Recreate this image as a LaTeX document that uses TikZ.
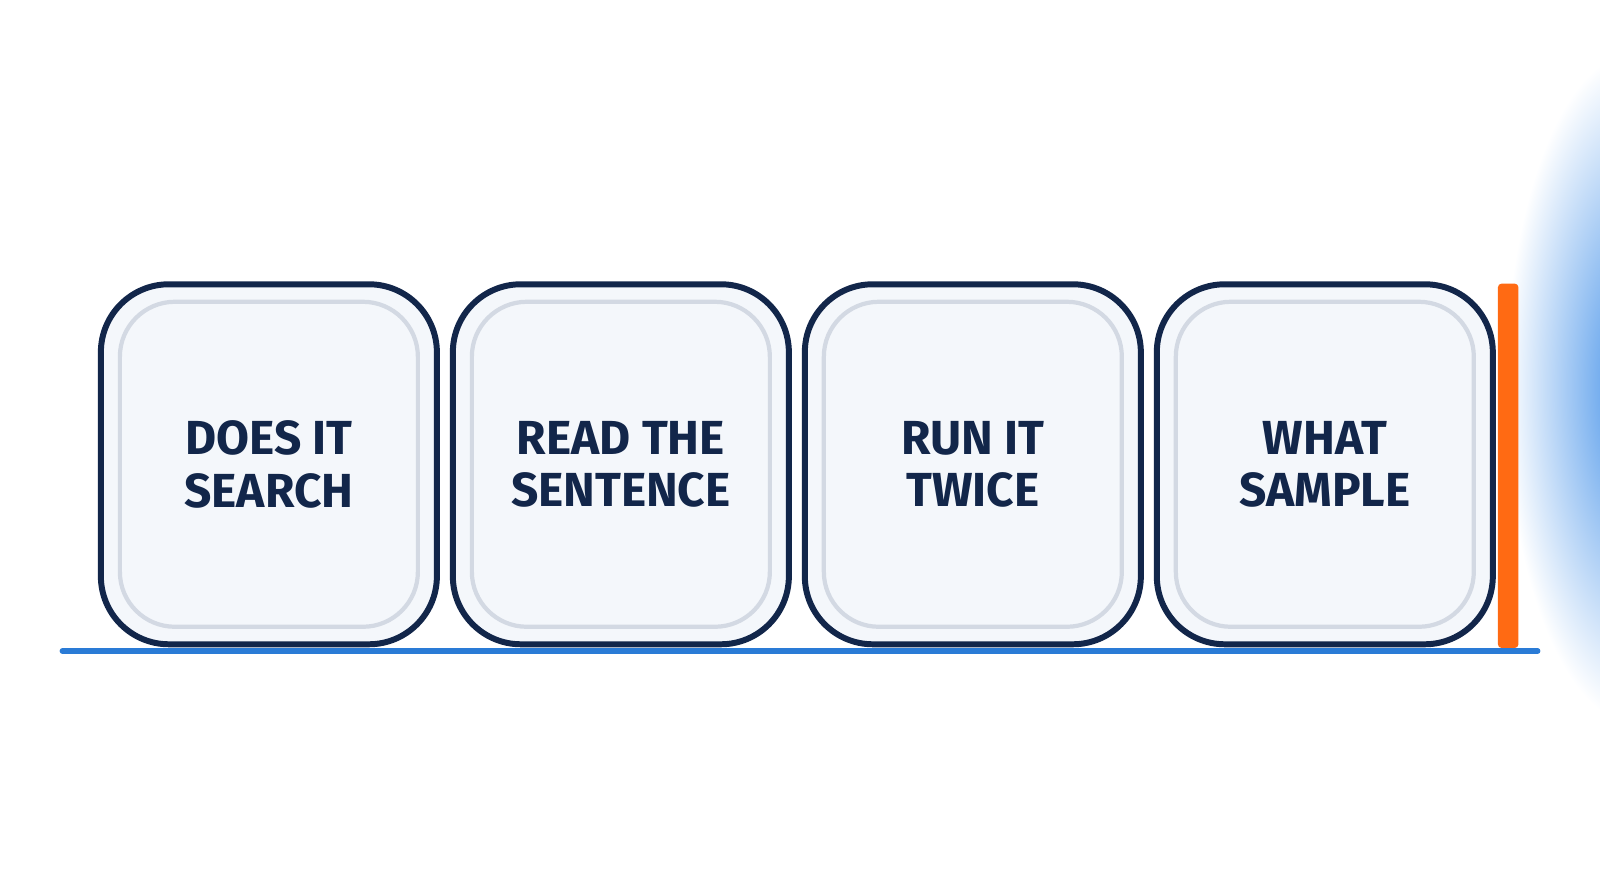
\documentclass[tikz,border=0pt]{standalone}
\usepackage{fontspec}
\setsansfont{Fira Sans}
\usetikzlibrary{positioning}
\definecolor{inkblue}{HTML}{12264A}
\definecolor{paleface}{HTML}{F4F7FB}
\definecolor{innerline}{HTML}{D3D9E3}
\definecolor{floorblue}{HTML}{2A7BD6}
\definecolor{barorange}{HTML}{FF6A13}
\definecolor{glowblue}{HTML}{3F8EE8}
\begin{document}
\begin{tikzpicture}[x=1.0204cm,y=1.0204cm,
  card/.style={draw=inkblue,line width=1.7pt,fill=paleface,rounded corners=0.68cm,
     minimum width=3.36cm,minimum height=3.6cm,inner sep=0pt},
  face/.style={draw=innerline,line width=1.2pt,rounded corners=0.55cm,
     minimum width=2.98cm,minimum height=3.25cm},
  word/.style={text=inkblue,font=\sffamily\bfseries\fontsize{13.6}{15}\selectfont,align=center}]
  % frame and glow
  \fill[white] (0,0) rectangle (15.68,8.75);
  \begin{scope}
    \clip (0,0) rectangle (15.68,8.75);
    \shade[inner color=glowblue,outer color=white] (16.05,4.95) ellipse (1.3 and 3.3);
  \end{scope}
  % floor line
  \coordinate (floorL) at (0.61,2.37);
  \coordinate (floorR) at (15.07,2.37);
  \draw[floorblue,line width=1.5pt,line cap=round] (floorL) -- (floorR);
  % cards
  \node[card] (c1) at (2.635,4.2) {};
  \node[card,right=0.1cm of c1] (c2) {};
  \node[card,right=0.1cm of c2] (c3) {};
  \node[card,right=0.1cm of c3] (c4) {};
  \foreach \c/\t in {c1/{DOES IT\\SEARCH},c2/{READ THE\\SENTENCE},c3/{RUN IT\\TWICE},c4/{WHAT\\SAMPLE}}{
    \node[face] at (\c) {};
    \node[word] at (\c) {\t};
  }
  % stop bar
  \fill[barorange,rounded corners=1pt] (14.68,2.40) rectangle (14.88,5.97);
\end{tikzpicture}
\end{document}
